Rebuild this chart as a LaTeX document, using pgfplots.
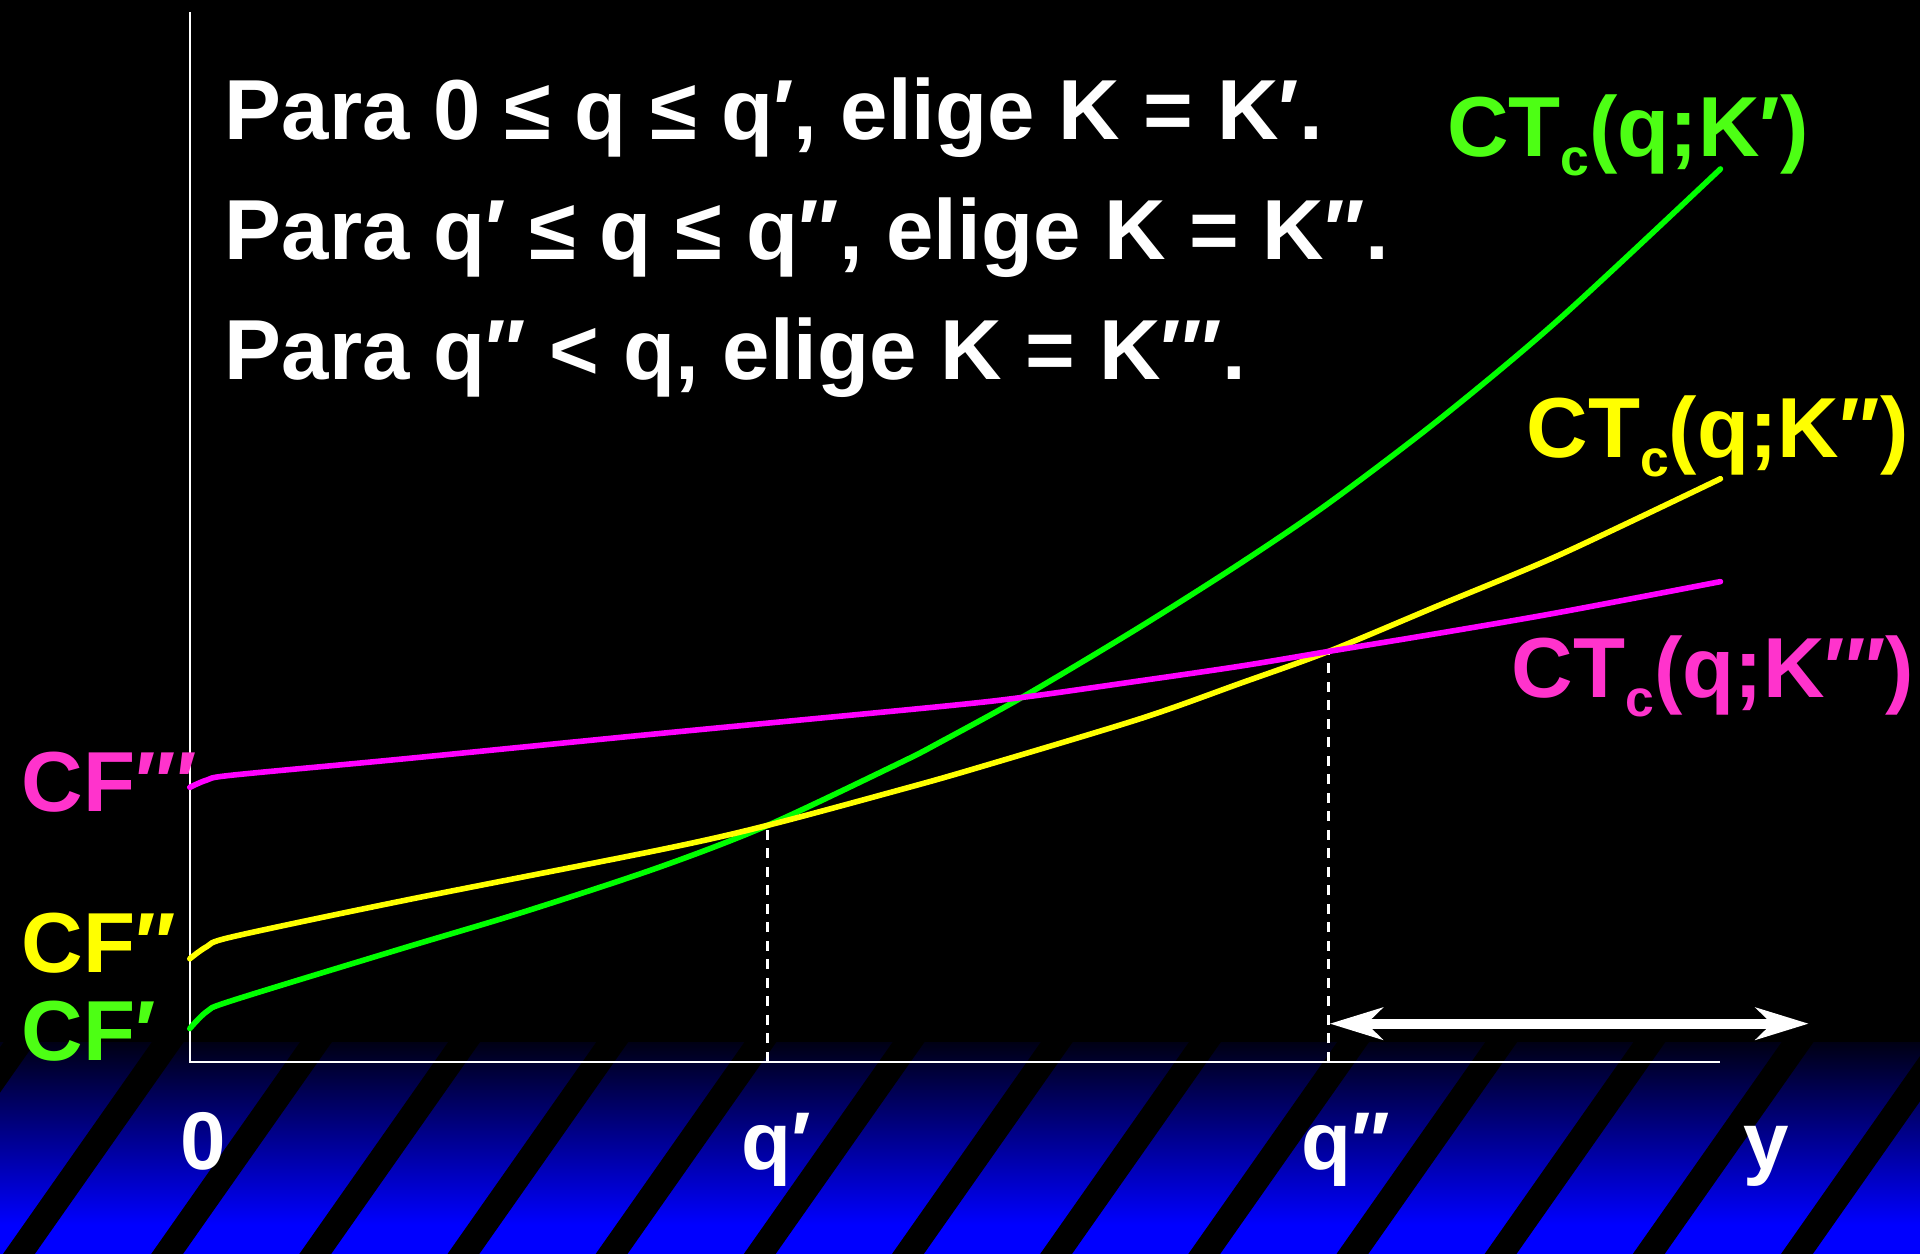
\documentclass[border=0pt]{standalone}
\usepackage{fontspec}
\setmainfont{Liberation Sans}
\usepackage{pgfplots}
\pgfplotsset{compat=1.18}
\usetikzlibrary{arrows.meta}

\definecolor{cvgreen}{RGB}{0,255,0}
\definecolor{lblgreen}{RGB}{77,255,20}
\definecolor{cvyellow}{RGB}{255,255,0}
\definecolor{cvmagenta}{RGB}{255,0,255}
\definecolor{lblmagenta}{RGB}{255,51,204}
\definecolor{navytop}{RGB}{0,0,20}
\definecolor{bandblue}{RGB}{0,0,255}

\newcommand{\txt}{\fontsize{19.8}{24}\selectfont\bfseries}
\newcommand{\tck}{\fontsize{19}{23}\selectfont\bfseries}
\newcommand{\sub}[1]{\raisebox{-1.5mm}{\fontsize{12}{12}\selectfont #1}}

\begin{document}
\begin{tikzpicture}
\begin{axis}[
  width=15.68cm, height=10.24cm, scale only axis,
  xmin=-155, xmax=1413, ymin=-157, ymax=867,
  hide axis,
  cost/.style={line width=1.3pt, line cap=round, line join=round, smooth, tension=0.5},
]
% slide background: black, blue band with diagonal stripes
\fill[black] (axis cs:-155,-157) rectangle (axis cs:1413,867);
\shade[top color=navytop, bottom color=bandblue] (axis cs:-155,-133) rectangle (axis cs:1413,16);
\fill[bandblue] (axis cs:-155,-157) rectangle (axis cs:1413,-133);
\begin{scope}
\clip (axis cs:-155,-157) rectangle (axis cs:1413,16);
\pgfplotsinvokeforeach{-273.5,-152.5,-31.5,89.5,210.5,331.5,452.5,573.5,694.5,815.5,936.5,1057.5,1178.5,1299.5}{
  \fill[black] (axis cs:#1,-157) -- ++(axis direction cs:26,0)
    -- ++(axis direction cs:121.5,173) -- ++(axis direction cs:-26,0) -- cycle;
}
\end{scope}

% axes
\addplot[white, line width=0.5pt] coordinates {(0,857)(0,0)(1250,0)};
% q' and q'' guides
\addplot[white, line width=0.6pt, dash pattern=on 2.3pt off 2pt] coordinates {(472,0)(472,193)};
\addplot[white, line width=0.6pt, dash pattern=on 2.3pt off 2pt] coordinates {(930,0)(930,335)};

% CT_c(q;K')
\addplot[cvgreen, cost] coordinates {
  (0,27)(14,41)(35,50)(172,92)(275,123)(384,159)(472,193)(580,244)(613,261)
  (684,300)(776,355)(858,407)(930,456)(1021,525)(1119,607)(1250,729)
};
% CT_c(q;K'')
\addplot[cvyellow, cost] coordinates {
  (0,84)(14,94)(35,102)(172,131)(384,173)(472,193)(580,222)(640,239)
  (776,280)(858,309)(930,335)(1021,373)(1119,414)(1250,476)
};
% CT_c(q;K''')
\addplot[cvmagenta, cost] coordinates {
  (0,224)(14,230)(35,234)(172,247)(384,268)(613,290)(684,298)(776,311)
  (858,323)(930,335)(1021,350)(1119,367)(1250,392)
};

% range arrow
\draw[white, line width=2.4pt,
  {Stealth[length=4.3mm,width=2.6mm,inset=1.3mm]}-{Stealth[length=4.3mm,width=2.6mm,inset=1.3mm]}]
  (axis cs:931,31) -- (axis cs:1322,31);

% statement
\node[anchor=base west, inner sep=0pt, white, font=\txt] at (axis cs:28,753) {Para 0 ≤ q ≤ q′, elige K = K′.};
\node[anchor=base west, inner sep=0pt, white, font=\txt] at (axis cs:28,655) {Para q′ ≤ q ≤ q′′, elige K = K′′.};
\node[anchor=base west, inner sep=0pt, white, font=\txt] at (axis cs:28,557) {Para q′′ < q, elige K = K′′′.};

% curve labels
\node[anchor=base west, inner sep=0pt, lblgreen, font=\txt] at (axis cs:1026,739) {CT\sub{c}(q;K′)};
\node[anchor=base west, inner sep=0pt, cvyellow, font=\txt] at (axis cs:1091,493) {CT\sub{c}(q;K′′)};
\node[anchor=base west, inner sep=0pt, lblmagenta, font=\txt] at (axis cs:1079,297) {CT\sub{c}(q;K′′′)};

% fixed costs
\node[anchor=base west, inner sep=0pt, lblmagenta, font=\txt] at (axis cs:-138,204) {CF′′′};
\node[anchor=base west, inner sep=0pt, cvyellow, font=\txt] at (axis cs:-138,73) {CF′′};
\node[anchor=base west, inner sep=0pt, lblgreen, font=\txt] at (axis cs:-138,1) {CF′};

% horizontal axis labels
\node[anchor=base west, inner sep=0pt, white, font=\tck] at (axis cs:-8,-88) {0};
\node[anchor=base west, inner sep=0pt, white, font=\tck] at (axis cs:450,-88) {q′};
\node[anchor=base west, inner sep=0pt, white, font=\tck] at (axis cs:907,-88) {q′′};
\node[anchor=base west, inner sep=0pt, white, font=\tck] at (axis cs:1268,-88) {y};
\end{axis}
\end{tikzpicture}
\end{document}
